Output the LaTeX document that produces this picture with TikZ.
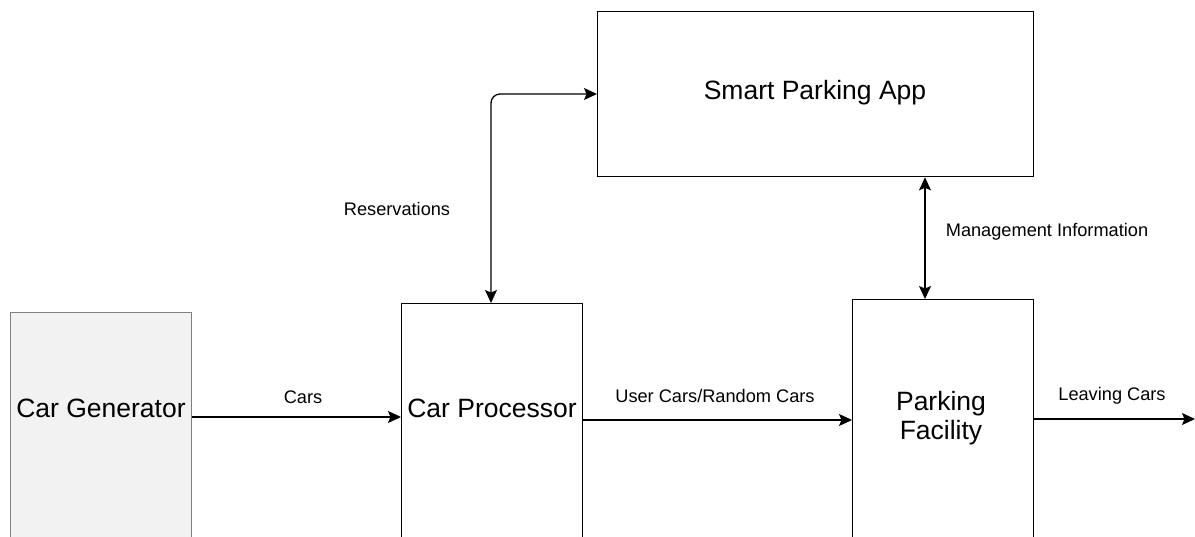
\documentclass[tikz,border=0pt]{standalone}
\usepackage{fontspec}
\setmainfont{Liberation Sans}
\usetikzlibrary{arrows.meta}
\begin{document}
\begin{tikzpicture}[x=1pt,y=-1pt,
  box/.style={draw=black, line width=1.3pt, fill=white, inner sep=0pt},
  genbox/.style={draw=black!50, line width=1.3pt, fill=black!5, inner sep=0pt},
  bigtext/.style={font=\fontsize{26.5}{28.5}\selectfont, align=center, inner sep=0pt},
  flowlabel/.style={font=\fontsize{18.2}{22}\selectfont, inner sep=0pt},
  flow/.style={line width=1.3pt, -{Stealth[length=13pt,width=12pt,inset=2.5pt]}},
  bothflow/.style={line width=1.3pt, {Stealth[length=13pt,width=12pt,inset=2.5pt]}-{Stealth[length=13pt,width=12pt,inset=2.5pt]}, rounded corners=9pt}]
\useasboundingbox (0,0) rectangle (1195,536);
\clip (0,0) rectangle (1195,536);

% blocks (they run on below the lower edge)
\node[genbox, minimum width=181pt, minimum height=300pt, anchor=north west] (gen) at (10,312) {};
\node[box, minimum width=181pt, minimum height=300pt, anchor=north west] (proc) at (401,303) {};
\node[box, minimum width=181pt, minimum height=300pt, anchor=north west] (park) at (852,299) {};
\node[box, minimum width=436pt, minimum height=165pt, anchor=north west] (app) at (597,11) {};
\coordinate (out) at (1195,419);

% block titles
\node[bigtext] (gentxt) at (101,408) {Car Generator};
\node[bigtext] (proctxt) at (492,408) {Car Processor};
\node[bigtext] (parktxt) at (941,418) {Parking\\Facility};
\node[bigtext] (apptxt) at (815,93) {Smart Parking App};

% connectors
\draw[flow] (gen.east |- 0,417) -- (proc.west |- 0,417);
\draw[flow] (proc.east |- 0,420) -- (park.west |- 0,420);
\draw[flow] (park.east |- out) -- (out);
\draw[bothflow] (app.west |- 0,94) -- (491,94) -- (proc.north -| 491,0);
\draw[bothflow] (app.south -| 925,0) -- (park.north -| 925,0);

% connector labels
\node[flowlabel] (lcars) at (303,397) {Cars};
\node[flowlabel] (luser) at (715,396) {User Cars/Random Cars};
\node[flowlabel] (lleave) at (1112,396) {Leaving Cars};
\node[flowlabel] (lres) at (397,209) {Reservations};
\node[flowlabel] (lmgmt) at (1047,232) {Management Information};
\end{tikzpicture}
\end{document}
